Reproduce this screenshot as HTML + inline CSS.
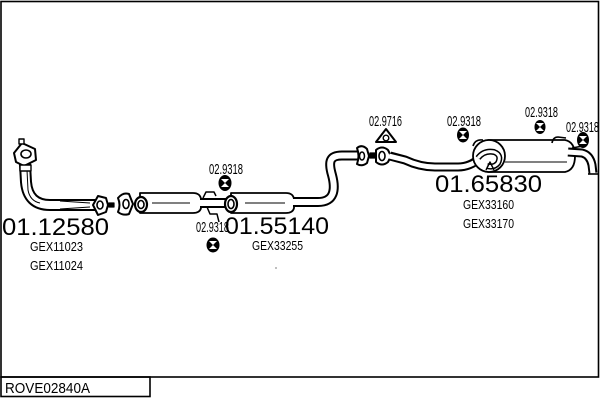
<!DOCTYPE html>
<html><head><meta charset="utf-8"><style>
html,body{margin:0;padding:0;background:#fff;}
svg{display:block;}
text{font-family:"Liberation Sans",Arial,sans-serif;fill:#000;}
</style></head><body>
<svg width="600" height="400" viewBox="0 0 600 400" xmlns="http://www.w3.org/2000/svg">
<rect x="0" y="0" width="600" height="400" fill="#fff"/>
<!-- frame -->
<rect x="1" y="1.5" width="597.5" height="375.5" fill="none" stroke="#000" stroke-width="1.6"/>
<rect x="1" y="377" width="149" height="19.5" fill="none" stroke="#000" stroke-width="1.6"/>
<text x="5" y="393" font-size="14.5" textLength="85" lengthAdjust="spacingAndGlyphs">ROVE02840A</text>

<g fill="none" stroke-linecap="butt" stroke-linejoin="round">
<!-- downpipe -->
<path d="M25 164 L26 182 Q28 205 50 205 L96 205" stroke="#000" stroke-width="12"/>
<path d="M25 164 L26 182 Q28 205 50 205 L96 205" stroke="#fff" stroke-width="8"/>
<path d="M27 170 L28 190 Q30 201 40 203" stroke="#000" stroke-width="1"/>
<path d="M60 201 L90 203 M60 209 L90 207" stroke="#000" stroke-width="1"/>
<!-- top flange -->
<path d="M14 153 L22 143 L35 149 L36 160 L24 166 L16 162 Z" fill="#fff" stroke="#000" stroke-width="2"/>
<ellipse cx="26" cy="154" rx="5" ry="4" fill="#fff" stroke="#000" stroke-width="1.6"/>
<rect x="19" y="139" width="5" height="5" fill="#fff" stroke="#000" stroke-width="1.4"/>
<rect x="20" y="165" width="11" height="6" fill="#fff" stroke="#000" stroke-width="1.4"/>
<!-- flange 1 -->
<path d="M93 205 L98 196 L106 198 L108 205 L106 212 L98 215 Z" fill="#fff" stroke="#000" stroke-width="2"/>
<ellipse cx="100" cy="205" rx="3" ry="4" fill="#fff" stroke="#000" stroke-width="1.6"/>
<rect x="109" y="203" width="5" height="4" fill="#000" stroke="#000" stroke-width="1.2"/>
<!-- flange 2 -->
<path d="M118 198 Q123 192 129 194 L133 204 L129 214 Q123 216 118 212 Q121 205 118 198 Z" fill="#fff" stroke="#000" stroke-width="2"/>
<ellipse cx="126" cy="204" rx="3" ry="4.5" fill="#fff" stroke="#000" stroke-width="1.6"/>

<!-- front muffler -->
<path d="M140 193 L193 193 Q200 193 201 199 L201 208 Q200 213 193 213 L140 213 Z" fill="#fff" stroke="#000" stroke-width="1.8"/>
<line x1="152" y1="203" x2="190" y2="203" stroke="#000" stroke-width="1"/>
<ellipse cx="141" cy="204.5" rx="6" ry="7.5" fill="#fff" stroke="#000" stroke-width="2.2"/>
<ellipse cx="141" cy="204.5" rx="3" ry="4" fill="#fff" stroke="#000" stroke-width="1.6"/>
<!-- connecting pipe -->
<path d="M200 203 L228 203" stroke="#000" stroke-width="10"/>
<path d="M199 203 L228 203" stroke="#fff" stroke-width="6"/>
<path d="M203 198 L206 192 L214 192 L216 196" stroke="#000" stroke-width="1.5"/>
<path d="M207 207 L210 214 L217 214 L219 222" stroke="#000" stroke-width="1.5"/>

<!-- rear mid muffler -->
<path d="M231 193 L286 193 Q293 193 294 199 L294 208 Q293 213 286 213 L231 213 Z" fill="#fff" stroke="#000" stroke-width="1.8"/>
<line x1="245" y1="203" x2="285" y2="203" stroke="#000" stroke-width="1"/>
<ellipse cx="231" cy="204" rx="6" ry="8" fill="#fff" stroke="#000" stroke-width="2.2"/>
<ellipse cx="231" cy="204" rx="3" ry="4.5" fill="#fff" stroke="#000" stroke-width="1.6"/>

<!-- S-bend pipe -->
<path d="M293 202 L318 202 C334 202 336 190 332 175 C328 161 330 155.5 342 155.5 L358 155.5" stroke="#000" stroke-width="10"/>
<path d="M292 202 L318 202 C334 202 336 190 332 175 C328 161 330 155.5 342 155.5 L359 155.5" stroke="#fff" stroke-width="6"/>

<!-- flanges at 357-390 -->
<path d="M357 148 Q362 144 367 149 L369 156 L367 163 Q362 167 357 164 Q360 156 357 148 Z" fill="#fff" stroke="#000" stroke-width="2"/>
<ellipse cx="362" cy="156" rx="2.5" ry="4" fill="#fff" stroke="#000" stroke-width="1.5"/>
<rect x="370" y="153" width="5" height="5" fill="#000" stroke="#000" stroke-width="1.2"/>
<path d="M376 150 Q382 145 388 150 L391 156 L388 162 Q382 167 376 162 Z" fill="#fff" stroke="#000" stroke-width="2"/>
<ellipse cx="382" cy="156" rx="3" ry="4.5" fill="#fff" stroke="#000" stroke-width="1.6"/>

<!-- pipe to rear muffler -->
<path d="M390 156 L405 160 Q420 167 435 167 L458 167 Q470 167 480 158" stroke="#000" stroke-width="9"/>
<path d="M389 156 L405 160 Q420 167 435 167 L458 167 Q470 167 481 158" stroke="#fff" stroke-width="5"/>

<!-- rear muffler -->
<path d="M488 140 L565 140 Q575 142 575 156 Q575 170 565 172 L488 172 Z" fill="#fff" stroke="#000" stroke-width="1.8"/>
<line x1="505" y1="162" x2="567" y2="162" stroke="#000" stroke-width="1"/>
<ellipse cx="489" cy="156" rx="16" ry="16" fill="#fff" stroke="#000" stroke-width="1.8"/>
<path d="M478 158 Q484 150 494 152 Q502 155 498 163 Q494 168 487 166" stroke="#000" stroke-width="6"/>
<path d="M478 158 Q484 150 494 152 Q502 155 498 163 Q494 168 487 166" stroke="#fff" stroke-width="3"/>
<path d="M486 170 L490 162 L494 170" stroke="#000" stroke-width="1.4"/>
<path d="M473 146 Q475 139 483 140" stroke="#000" stroke-width="1.6"/>
<!-- hook on rear muffler -->
<path d="M552 143 Q553 137 558 137 L566 138" stroke="#000" stroke-width="1.6"/>
<!-- tailpipe -->
<path d="M568 152 L582 153 Q590 155 592 165 L593 173" stroke="#000" stroke-width="9"/>
<path d="M567 152 L582 153 Q590 155 592 165 L593 174" stroke="#fff" stroke-width="5"/>
<path d="M588 174 L598 174" stroke="#000" stroke-width="1.6"/>
<path d="M572 148 L583 146" stroke="#000" stroke-width="1.4"/>

<!-- triangle flange -->
<path d="M386 129 L396 142 L376 142 Z" fill="#fff" stroke="#000" stroke-width="2" stroke-linejoin="round"/>
<circle cx="386" cy="138" r="2.8" fill="#fff" stroke="#000" stroke-width="1.4"/>
</g>

<!-- hangers -->
<g>
<ellipse cx="225" cy="183" rx="6.5" ry="8" fill="#000"/>
<path d="M221 179 L229 179 L225 183 Z M221 187 L229 187 L225 183 Z" fill="#fff"/>
<ellipse cx="213" cy="245" rx="6.5" ry="7.5" fill="#000"/>
<path d="M209 241 L217 241 L213 245 Z M209 249 L217 249 L213 245 Z" fill="#fff"/>
<ellipse cx="463" cy="135" rx="6" ry="7.5" fill="#000"/>
<path d="M459 131 L467 131 L463 135 Z M459 139 L467 139 L463 135 Z" fill="#fff"/>
<ellipse cx="540" cy="127" rx="5.5" ry="7" fill="#000"/>
<path d="M536 123 L544 123 L540 127 Z M536 131 L544 131 L540 127 Z" fill="#fff"/>
<ellipse cx="583" cy="140" rx="6" ry="8" fill="#000"/>
<path d="M579 136 L587 136 L583 140 Z M579 144 L587 144 L583 140 Z" fill="#fff"/>
</g>

<!-- large part numbers -->
<text x="2" y="235" font-size="24" textLength="107" lengthAdjust="spacingAndGlyphs">01.12580</text>
<text x="225" y="234" font-size="24" textLength="104" lengthAdjust="spacingAndGlyphs">01.55140</text>
<text x="435" y="192" font-size="24" textLength="107" lengthAdjust="spacingAndGlyphs">01.65830</text>

<!-- GEX labels -->
<text x="30" y="251" font-size="12.5" textLength="53" lengthAdjust="spacingAndGlyphs">GEX11023</text>
<text x="30" y="270" font-size="12.5" textLength="53" lengthAdjust="spacingAndGlyphs">GEX11024</text>
<text x="252" y="250" font-size="12.5" textLength="51" lengthAdjust="spacingAndGlyphs">GEX33255</text>
<text x="463" y="209" font-size="12.5" textLength="51" lengthAdjust="spacingAndGlyphs">GEX33160</text>
<text x="463" y="228" font-size="12.5" textLength="51" lengthAdjust="spacingAndGlyphs">GEX33170</text>

<!-- hanger labels -->
<text x="209" y="174" font-size="15" textLength="34" lengthAdjust="spacingAndGlyphs">02.9318</text>
<text x="196" y="232" font-size="15" textLength="33" lengthAdjust="spacingAndGlyphs">02.9318</text>
<text x="369" y="126" font-size="15" textLength="33" lengthAdjust="spacingAndGlyphs">02.9716</text>
<text x="447" y="126" font-size="15" textLength="34" lengthAdjust="spacingAndGlyphs">02.9318</text>
<text x="525" y="117" font-size="15" textLength="33" lengthAdjust="spacingAndGlyphs">02.9318</text>
<text x="566" y="132" font-size="15" textLength="33" lengthAdjust="spacingAndGlyphs">02.9318</text>

<rect x="275.5" y="267.5" width="1" height="1" fill="#000"/>
</svg>
</body></html>
